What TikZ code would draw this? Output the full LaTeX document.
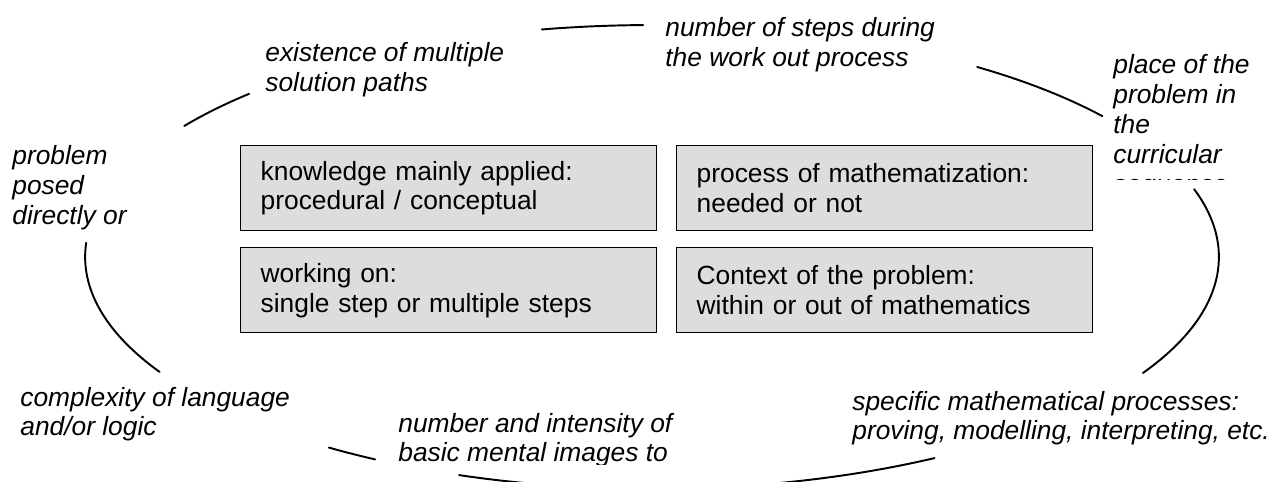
\documentclass[tikz,border=0pt]{standalone}
\usepackage{fontspec}
\setmainfont{Liberation Sans}
\definecolor{boxgray}{RGB}{221,221,221}
\begin{document}
\begin{tikzpicture}[x=0.02cm,y=-0.02cm,
  ring/.style={line width=1.1pt, line cap=round},
  catbox/.style={draw=black, line width=0.8pt, fill=boxgray, minimum width=8.32cm, minimum height=1.7cm, text width=7.52cm, align=left, inner xsep=0.4cm, inner ysep=0pt, anchor=north west, font=\fontsize{15}{17.07}\selectfont},
  lbl/.style={anchor=base west, inner sep=0pt, font=\fontsize{15}{17.07}\selectfont\itshape}]
\useasboundingbox (0,0) rectangle (1273,482);
\clip (0,0) rectangle (1273,482);
% ellipse pieces
\begin{scope}[shift={(652,257)}]
  \foreach \a/\b in {90.9/101.2, 135.3/145.6, 176.5/209.7, 235.25/240.76, 250.1/299.9, -30/17, 37.4/55.0}
    \draw[ring] (\a:11.34cm and 4.64cm) arc[start angle=\a, end angle=\b, x radius=11.34cm, y radius=4.64cm];
\end{scope}
% boxes
\node[catbox] (know) at (240,145) {knowledge mainly applied:\\procedural / conceptual};
\node[catbox] (math) at (676,145) {process of mathematization:\\needed or not};
\node[catbox] (work) at (240,247) {working on:\\single step or multiple steps};
\node[catbox] (ctx) at (676,247) {Context of the problem:\\within or out of mathematics};
% labels
\node[lbl] (exist) at (265,62) {\begin{tabular}[t]{@{}l@{}}existence of multiple\\solution paths\end{tabular}};
\node[lbl] (steps) at (665,37) {\begin{tabular}[t]{@{}l@{}}number of steps during\\the work out process\end{tabular}};
\begin{scope}
  \clip (1100,40) rectangle (1273,180);
  \node[lbl] (place) at (1113,74) {\begin{tabular}[t]{@{}l@{}}place of the\\problem in\\the\\curricular\\sequence\end{tabular}};
\end{scope}
\node[lbl] (posed) at (12,165) {\begin{tabular}[t]{@{}l@{}}problem\\posed\\directly or\end{tabular}};
\node[lbl] (compl) at (20,406) {\begin{tabular}[t]{@{}l@{}}complexity of language\\and/or logic\end{tabular}};
\begin{scope}
  \clip (380,400) rectangle (720,464);
  \node[lbl] (images) at (398,432) {\begin{tabular}[t]{@{}l@{}}number and intensity of\\basic mental images to\end{tabular}};
\end{scope}
\node[lbl] (spec) at (852,410) {\begin{tabular}[t]{@{}l@{}}specific mathematical processes:\\proving, modelling, interpreting, etc.\end{tabular}};
\end{tikzpicture}
\end{document}
